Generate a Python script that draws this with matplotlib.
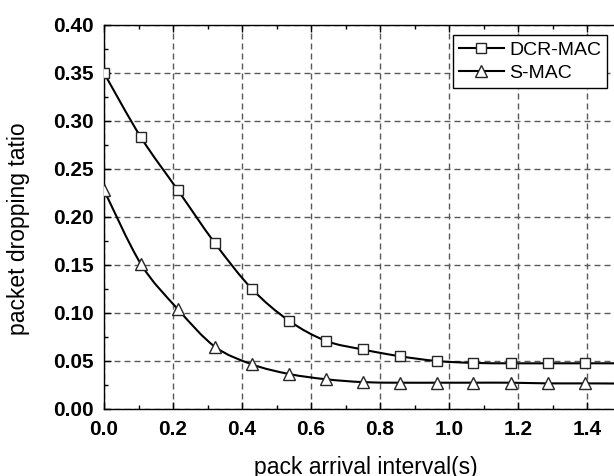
import numpy as np
import matplotlib
matplotlib.use("Agg")
import matplotlib.pyplot as plt
from matplotlib.path import Path
from matplotlib.patches import PathPatch
from matplotlib.lines import Line2D

plt.rcParams['font.family'] = ['Liberation Sans', 'DejaVu Sans']

# data
interval = [0.0, 0.107, 0.214, 0.321, 0.429, 0.536, 0.643, 0.75, 0.857, 0.964, 1.071, 1.179, 1.286, 1.393, 1.5]
dcr_mac = [0.350, 0.283, 0.228, 0.173, 0.125, 0.092, 0.071, 0.062, 0.055, 0.050, 0.048, 0.0476, 0.0476, 0.0476, 0.0476]
s_mac = [0.228, 0.151, 0.104, 0.065, 0.0465, 0.0365, 0.031, 0.028, 0.0274, 0.0274, 0.0274, 0.0274, 0.0267, 0.0267, 0.0265]
x_ticks = [0.0, 0.2, 0.4, 0.6, 0.8, 1.0, 1.2, 1.4]
y_ticks = [0.00, 0.05, 0.10, 0.15, 0.20, 0.25, 0.30, 0.35, 0.40]


def spline_path(xs, ys):
    # Catmull-Rom through the points, drawn as cubic bezier segments
    p = np.column_stack([xs, ys])
    p = np.vstack([p[0], p, p[-1]])
    verts = [p[1]]
    codes = [Path.MOVETO]
    for i in range(1, len(p) - 2):
        c1 = p[i] + (p[i + 1] - p[i - 1]) / 6.0
        c2 = p[i + 1] - (p[i + 2] - p[i]) / 6.0
        verts += [c1, c2, p[i + 1]]
        codes += [Path.CURVE4] * 3
    return Path(verts, codes)


fig = plt.figure(figsize=(6.14, 4.76), dpi=100)
ax = fig.add_axes([104 / 614, 1 - 409 / 476, 517.5 / 614, 384 / 476])

ax.grid(True, which='major', color='0.35', lw=1.0, linestyle=(0, (4.3, 2.9)))
ax.set_axisbelow(True)

for ys in (dcr_mac, s_mac):
    ax.add_patch(PathPatch(spline_path(interval, ys), facecolor='none',
                           edgecolor='black', lw=1.5, zorder=3))

ax.plot(interval, dcr_mac, ls='none', marker='s', ms=7.5, mfc='white', mec='0.15', mew=1.0, zorder=4)
ax.plot(interval, s_mac, ls='none', marker='^', ms=9, mfc='white', mec='0.15', mew=1.0, zorder=4)

ax.set_xlim(0, 1.5)
ax.set_ylim(0, 0.40)
ax.tick_params(which='both', direction='in', top=True, right=True, width=1.0, labelsize=15)
ax.tick_params(which='major', length=5)
ax.tick_params(which='minor', length=3)
ax.tick_params(axis='x', pad=8)
ax.tick_params(axis='y', pad=7.5)
ax.set_xticks(x_ticks)
ax.set_yticks(y_ticks)
ax.set_xticks(np.arange(0.1, 1.5, 0.2), minor=True)
ax.set_yticks(np.arange(0.025, 0.4, 0.05), minor=True)
ax.set_xticklabels(['%.1f' % v for v in x_ticks], fontsize=15, fontweight='bold')
ax.set_yticklabels(['%.2f' % v for v in y_ticks], fontsize=15, fontweight='bold')
for sp in ax.spines.values():
    sp.set_linewidth(1.0)

ax.set_xlabel('pack arrival interval(s)', fontsize=16.5)
ax.set_ylabel('packet dropping tatio', fontsize=16.5)
ax.xaxis.set_label_coords(0.506, -0.122)
ax.yaxis.set_label_coords(-0.143, 0.469)

handles = [
    Line2D([], [], color='black', lw=1.5, marker='s', ms=7.5, mfc='white', mec='0.15', mew=1.0),
    Line2D([], [], color='black', lw=1.5, marker='^', ms=9, mfc='white', mec='0.15', mew=1.0),
]
leg = fig.legend(handles, ['DCR-MAC', 'S-MAC'], loc='upper right',
                 bbox_to_anchor=(607.3 / 614, 1 - 35.3 / 476), bbox_transform=fig.transFigure,
                 borderaxespad=0, fontsize=14, fancybox=False, framealpha=1,
                 edgecolor='black', handlelength=2.3, handletextpad=0.3,
                 labelspacing=0.3, borderpad=0.3, numpoints=1)
leg.get_frame().set_linewidth(1.0)

fig.savefig('out.png', dpi=100)
